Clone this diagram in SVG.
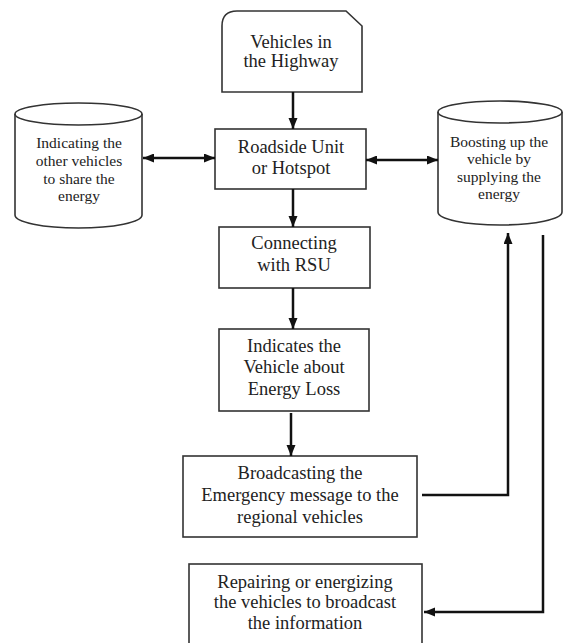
<svg xmlns="http://www.w3.org/2000/svg" width="563" height="643" viewBox="0 0 563 643">
<style>
.box{fill:#fff;stroke:#333;stroke-width:1.6}
.t{font-family:"Liberation Serif","Times New Roman",serif;font-size:18.5px;fill:#222;text-anchor:middle}
.s{font-family:"Liberation Serif","Times New Roman",serif;font-size:15.5px;fill:#222;text-anchor:middle}
.c{fill:none;stroke:#111;stroke-width:2.5}
</style>
<defs>
<marker id="ah" markerUnits="userSpaceOnUse" markerWidth="12" markerHeight="10" refX="11" refY="4.5" orient="auto">
<path d="M0,0 L11,4.5 L0,9 z" fill="#111"/>
</marker>
<marker id="as" markerUnits="userSpaceOnUse" markerWidth="12" markerHeight="10" refX="0" refY="4.5" orient="auto">
<path d="M11,0 L0,4.5 L11,9 z" fill="#111"/>
</marker>
</defs>
<rect width="563" height="643" fill="#fff"/>
<g id="vehicles">
<path class="box" d="M222,92 L222,26 Q222,11 237,11 L346,11 L362,26 L362,92 Z"/>
<text class="t" x="291" y="48">Vehicles in</text>
<text class="t" x="291" y="67">the Highway</text>
</g>
<g id="rsu">
<rect class="box" x="215" y="129" width="151" height="60"/>
<text class="t" x="291" y="153">Roadside Unit</text>
<text class="t" x="291" y="174">or Hotspot</text>
</g>
<g id="share">
<path class="box" d="M15,114 L15,215 A63.5,13 0 0 0 142,215 L142,114 A63.5,11 0 0 0 15,114 Z"/>
<path class="box" style="fill:none" d="M15,114 A63.5,11 0 0 0 142,114"/>
<text class="s" x="79" y="148">Indicating the</text>
<text class="s" x="79" y="166">other vehicles</text>
<text class="s" x="79" y="184">to share the</text>
<text class="s" x="79" y="201">energy</text>
</g>
<g id="boost">
<path class="box" d="M438,112 L438,212 A62,13 0 0 0 562,212 L562,112 A62,11 0 0 0 438,112 Z"/>
<path class="box" style="fill:none" d="M438,112 A62,11 0 0 0 562,112"/>
<text class="s" x="499" y="147">Boosting up the</text>
<text class="s" x="499" y="164">vehicle by</text>
<text class="s" x="499" y="182">supplying the</text>
<text class="s" x="499" y="199">energy</text>
</g>
<g id="connecting">
<rect class="box" x="219" y="227" width="151" height="61"/>
<text class="t" x="294" y="249">Connecting</text>
<text class="t" x="294" y="271">with RSU</text>
</g>
<g id="indicates">
<rect class="box" x="219" y="329" width="150" height="82"/>
<text class="t" x="294" y="352">Indicates the</text>
<text class="t" x="294" y="373">Vehicle about</text>
<text class="t" x="294" y="395">Energy Loss</text>
</g>
<g id="broadcast">
<rect class="box" x="183" y="456" width="234" height="81"/>
<text class="t" x="300" y="479">Broadcasting the</text>
<text class="t" x="300" y="501">Emergency message to the</text>
<text class="t" x="300" y="523">regional vehicles</text>
</g>
<g id="repair">
<rect class="box" x="189" y="564" width="233" height="86"/>
<text class="t" x="305" y="588">Repairing or energizing</text>
<text class="t" x="305" y="608">the vehicles to broadcast</text>
<text class="t" x="305" y="629">the information</text>
</g>
<g id="connectors">
<line class="c" x1="293" y1="92" x2="293" y2="129" marker-end="url(#ah)"/>
<line class="c" x1="293" y1="189" x2="293" y2="227" marker-end="url(#ah)"/>
<line class="c" x1="293" y1="288" x2="293" y2="329" marker-end="url(#ah)"/>
<line class="c" x1="291" y1="413" x2="291" y2="456" marker-end="url(#ah)"/>
<line class="c" x1="143" y1="158" x2="215" y2="158" marker-start="url(#as)" marker-end="url(#ah)"/>
<line class="c" x1="366" y1="160" x2="438" y2="160" marker-start="url(#as)" marker-end="url(#ah)"/>
<polyline class="c" points="422,495 508,495 508,233" marker-end="url(#ah)"/>
<polyline class="c" points="543,235 543,612 424,612" marker-end="url(#ah)"/>
</g>
</svg>
